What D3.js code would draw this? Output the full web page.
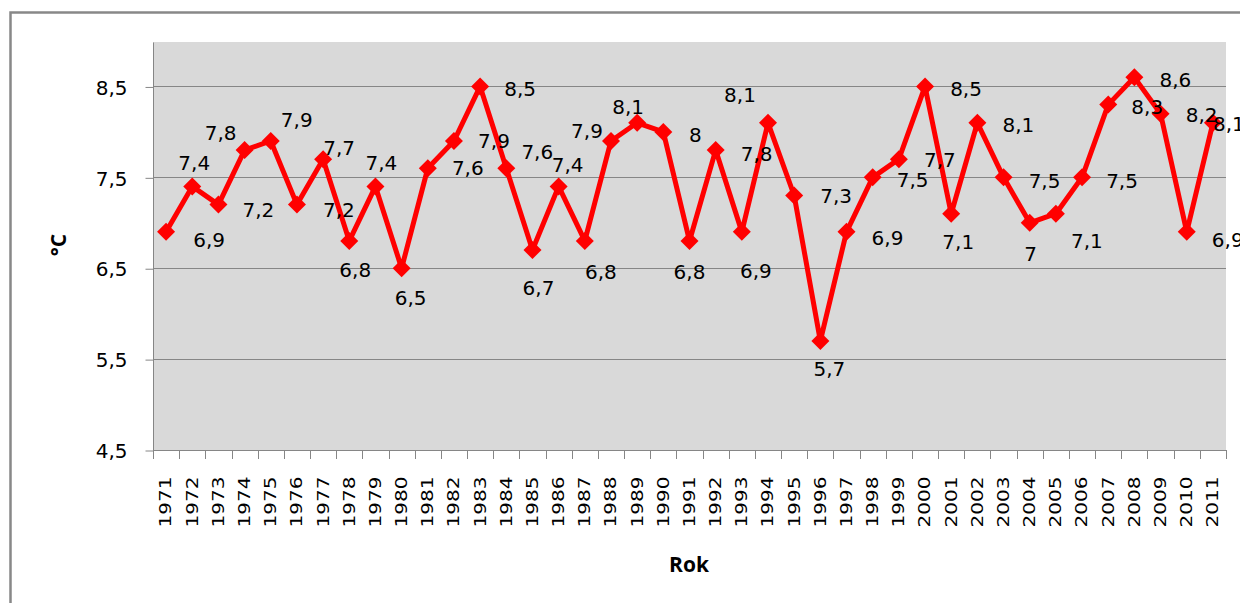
<!DOCTYPE html>
<html>
<head>
<meta charset="utf-8">
<script src="https://cdn.jsdelivr.net/npm/d3@7"></script>
<style>
  html, body { margin: 0; padding: 0; background: #ffffff; }
  svg { display: block; }
</style>
</head>
<body>
<svg id="chart" width="1240" height="603"></svg>
<script>
// ---- data ----
const years = [1971,1972,1973,1974,1975,1976,1977,1978,1979,1980,
               1981,1982,1983,1984,1985,1986,1987,1988,1989,1990,
               1991,1992,1993,1994,1995,1996,1997,1998,1999,2000,
               2001,2002,2003,2004,2005,2006,2007,2008,2009,2010,2011];
const temps = [6.9,7.4,7.2,7.8,7.9,7.2,7.7,6.8,7.4,6.5,
               7.6,7.9,8.5,7.6,6.7,7.4,6.8,7.9,8.1,8.0,
               6.8,7.8,6.9,8.1,7.3,5.7,6.9,7.5,7.7,8.5,
               7.1,8.1,7.5,7.0,7.1,7.5,8.3,8.6,8.2,6.9,8.1];
const yTicks = [4.5, 5.5, 6.5, 7.5, 8.5];
const xTitle = "Rok";
const yTitle = "°C";

// ---- layout (label placement relative to each marker, px) ----
const labelOffsets = [[43,8],[2,-24],[40,5],[-24,-17],[26,-21],[42,5],[16,-11],[6,29],[6,-24],[9,30],
                      [40,0],[40,0],[40,2],[31,-16],[6,38],[9,-22],[16,31],[-24,-10],[-9,-16],[32,3],
                      [0,31],[41,4],[14,39],[-28,-28],[42,0],[9,28],[41,6],[40,2],[41,1],[41,2],
                      [7,28],[41,2],[41,3],[1,31],[31,27],[40,3],[39,2],[41,2],[41,1],[41,8],[16,1]];

const svg = d3.select("#chart");
const plot = {left: 153, right: 1226, top: 41, bottom: 450};
const gridColor = "#868686";
const fmt = v => String(v).replace(".", ",");

// outer chart frame
svg.append("rect").attr("x", 10.5).attr("y", 12.5).attr("width", 1300).attr("height", 700)
  .attr("fill", "#fff").attr("stroke", "#888").attr("stroke-width", 2.5);

const x = d3.scaleBand().domain(years).range([plot.left, plot.right]).padding(0);
const y = d3.scaleLinear().domain([4.5, 9]).range([plot.bottom, plot.top]);
const cx = d => x(d) + x.bandwidth() / 2;

// plot background
svg.append("rect").attr("x", plot.left).attr("y", y(9) + 1)
  .attr("width", plot.right - plot.left).attr("height", plot.bottom - y(9) - 1)
  .attr("fill", "#d9d9d9");

// gridlines
svg.append("g").selectAll("line").data(yTicks.filter(t => t > 4.5)).join("line")
  .attr("x1", plot.left).attr("x2", plot.right)
  .attr("y1", d => Math.round(y(d)) + 0.5).attr("y2", d => Math.round(y(d)) + 0.5)
  .attr("stroke", gridColor).attr("stroke-width", 1);

// y axis
const yAxis = d3.axisLeft(y).tickValues(yTicks).tickSize(8).tickPadding(18).tickFormat(fmt);
const gy = svg.append("g").attr("transform", `translate(${plot.left + 0.5},0.5)`).call(yAxis);
gy.select(".domain").attr("stroke", gridColor).attr("d", `M0,${y(9)+1}V${plot.bottom}`);
gy.selectAll(".tick line").attr("stroke", gridColor);
gy.selectAll(".tick text").attr("fill", "#000").style("font-family", "DejaVu Sans")
  .style("font-size", "20px").attr("dy", "0.36em");

// x axis
const xAxis = d3.axisBottom(x).tickSize(0).tickFormat(d => d);
const gx = svg.append("g").attr("transform", `translate(0,${plot.bottom + 0.5})`).call(xAxis);
gx.select(".domain").attr("stroke", gridColor).attr("d", `M${plot.left},0H${plot.right}`);
gx.selectAll(".tick text")
  .attr("fill", "#000")
  .style("font-family", "DejaVu Sans").style("font-size", "15px")
  .attr("text-anchor", "end")
  .attr("transform", "rotate(-90)")
  .attr("x", -26).attr("y", 0).attr("dy", "0.36em")
  .attr("textLength", 51).attr("lengthAdjust", "spacingAndGlyphs");
// boundary tick marks
svg.append("g").selectAll("line").data(years.concat(["end"])).join("line")
  .attr("x1", (d, i) => Math.round(i < years.length ? x(d) : plot.right) + 0.5)
  .attr("x2", (d, i) => Math.round(i < years.length ? x(d) : plot.right) + 0.5)
  .attr("y1", plot.bottom).attr("y2", plot.bottom + 9)
  .attr("stroke", gridColor).attr("stroke-width", 1);

// line
const line = d3.line().x((d, i) => cx(years[i])).y(d => y(d));
svg.append("path").datum(temps).attr("d", line)
  .attr("fill", "none").attr("stroke", "#ff0000").attr("stroke-width", 5)
  .attr("stroke-linejoin", "round");

// markers (diamonds)
const s = 9;
svg.append("g").selectAll("path").data(temps).join("path")
  .attr("d", (d, i) => {
    const px = cx(years[i]), py = y(d);
    return `M${px},${py - s}L${px + s},${py}L${px},${py + s}L${px - s},${py}Z`;
  })
  .attr("fill", "#ff0000");

// data labels
svg.append("g").selectAll("text").data(temps).join("text")
  .attr("x", (d, i) => cx(years[i]) + labelOffsets[i][0])
  .attr("y", (d, i) => y(d) + labelOffsets[i][1])
  .attr("dy", "0.36em")
  .attr("text-anchor", "middle")
  .style("font-family", "DejaVu Sans").style("font-size", "20px")
  .attr("fill", "#000")
  .text(d => fmt(d));

// axis titles
svg.append("text").attr("x", 689).attr("y", 572).attr("text-anchor", "middle")
  .style("font-family", "Open Sans").style("font-weight", "bold").style("font-size", "21px")
  .text(xTitle);
svg.append("text").attr("transform", "translate(66,245) rotate(-90)").attr("text-anchor", "middle")
  .style("font-family", "Open Sans").style("font-weight", "bold").style("font-size", "21px")
  .text(yTitle);
</script>
</body>
</html>
